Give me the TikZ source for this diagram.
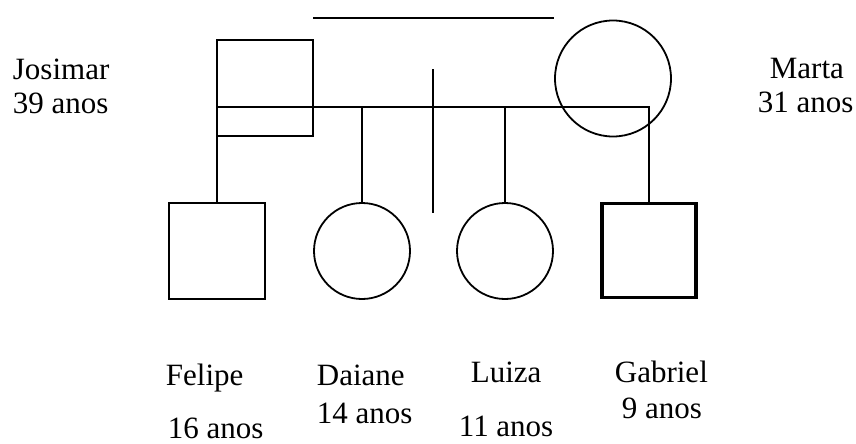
\documentclass[tikz,border=0pt]{standalone}
\usepackage{fontspec}
\setmainfont{Liberation Serif}
\begin{document}
\begin{tikzpicture}[x=1pt,y=-1pt,
  line width=1.8pt,
  male/.style={draw, rectangle, minimum size=96pt, inner sep=0pt},
  female/.style={draw, circle, inner sep=0pt},
  label/.style={anchor=base west, inner sep=0pt, font=\fontsize{31}{34}\selectfont}]
\useasboundingbox (0,0) rectangle (856,444);

% parents
\node[male] (josimar) at (265,88) {};
\node[female, minimum size=116pt] (marta) at (613,78.5) {};

% children
\node[male] (felipe) at (217,251) {};
\node[female, minimum size=96pt] (daiane) at (362,251) {};
\node[female, minimum size=96pt] (luiza) at (505,251) {};
\node[male, line width=3.8pt, minimum size=94pt] (gabriel) at (649,250.5) {};

% sibship line with drops to the children
\coordinate (sibL) at (217,107);
\coordinate (sibR) at (649,107);
\coordinate (dropD) at (362,107);
\coordinate (dropL) at (505,107);
\draw (felipe.north) -- (sibL) -- (sibR) -- (gabriel.north);
\draw (dropD) -- (daiane.north);
\draw (dropL) -- (luiza.north);

% separate strokes above and across the sibship line
\coordinate (topA) at (313,18);
\coordinate (topB) at (554,18);
\draw (topA) -- (topB);
\coordinate (vA) at (433,69);
\coordinate (vB) at (433,213);
\draw (vA) -- (vB);

% labels
\node[label] (lJ1) at (12,79) {Josimar};
\node[label] (lJ2) at (12,113) {39 anos};
\node[label] (lM1) at (769,78) {Marta};
\node[label] (lM2) at (757,112) {31 anos};
\node[label] (lF1) at (165,385) {Felipe};
\node[label] (lF2) at (167,438) {16 anos};
\node[label] (lD1) at (316,385) {Daiane};
\node[label] (lD2) at (316,423) {14 anos};
\node[label] (lL1) at (470,382) {Luiza};
\node[label] (lL2) at (458,436) {11 anos};
\node[label] (lG1) at (614,382) {Gabriel};
\node[label] (lG2) at (621,418) {9 anos};
\end{tikzpicture}
\end{document}
